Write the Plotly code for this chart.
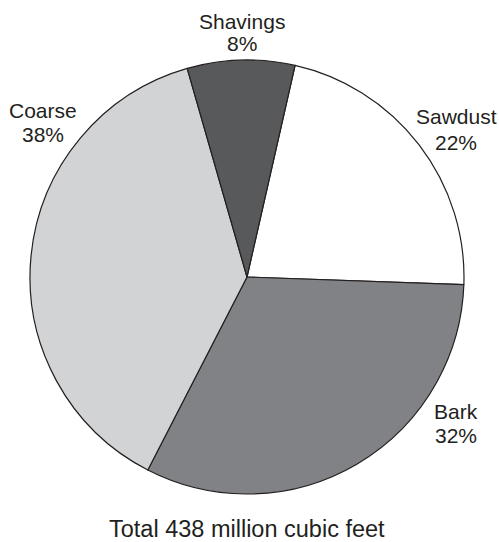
import plotly.graph_objects as go

labels = ["Sawdust", "Bark", "Coarse", "Shavings"]
values = [22, 32, 38, 8]
colors = ["#ffffff", "#808285", "#d1d3d4", "#58595b"]
title_text = "Total 438 million cubic feet"

W, H = 499, 542
# label anchor positions (pixels): (x, y of name line, y of percent line)
label_pos = {"Sawdust": (456, 117, 142), "Bark": (456, 411, 435),
             "Coarse": (43, 110, 134), "Shavings": (242, 21, 43)}
FONT = "Liberation Sans, Arial, sans-serif"

fig = go.Figure(go.Pie(
    labels=labels, values=values, sort=False, direction="clockwise",
    rotation=12.8, textinfo="none", hoverinfo="label+percent",
    marker=dict(colors=colors, line=dict(color="#231f20", width=1.2)),
    domain=dict(x=[30 / W, 464 / W], y=[1 - 494 / H, 1 - 60 / H]),
    showlegend=False,
))

annotations = []
for lab, val in zip(labels, values):
    px, py1, py2 = label_pos[lab]
    for txt, py in ((lab, py1), (f"{val}%", py2)):
        annotations.append(dict(
            x=px / W, y=1 - py / H, xref="paper", yref="paper",
            text=txt, showarrow=False, xanchor="center", yanchor="middle",
            font=dict(family=FONT, size=21, color="#231f20"),
        ))
annotations.append(dict(
    x=247 / W, y=1 - 529 / H, xref="paper", yref="paper", text=title_text,
    showarrow=False, xanchor="center", yanchor="middle",
    font=dict(family=FONT, size=23.5, color="#231f20"),
))

fig.update_layout(
    width=W, height=H, margin=dict(l=0, r=0, t=0, b=0),
    paper_bgcolor="white", plot_bgcolor="white", annotations=annotations,
)
fig.write_html("out.html", config={"displayModeBar": False},
               post_script="document.body.style.margin='0';document.body.style.overflow='hidden';")
